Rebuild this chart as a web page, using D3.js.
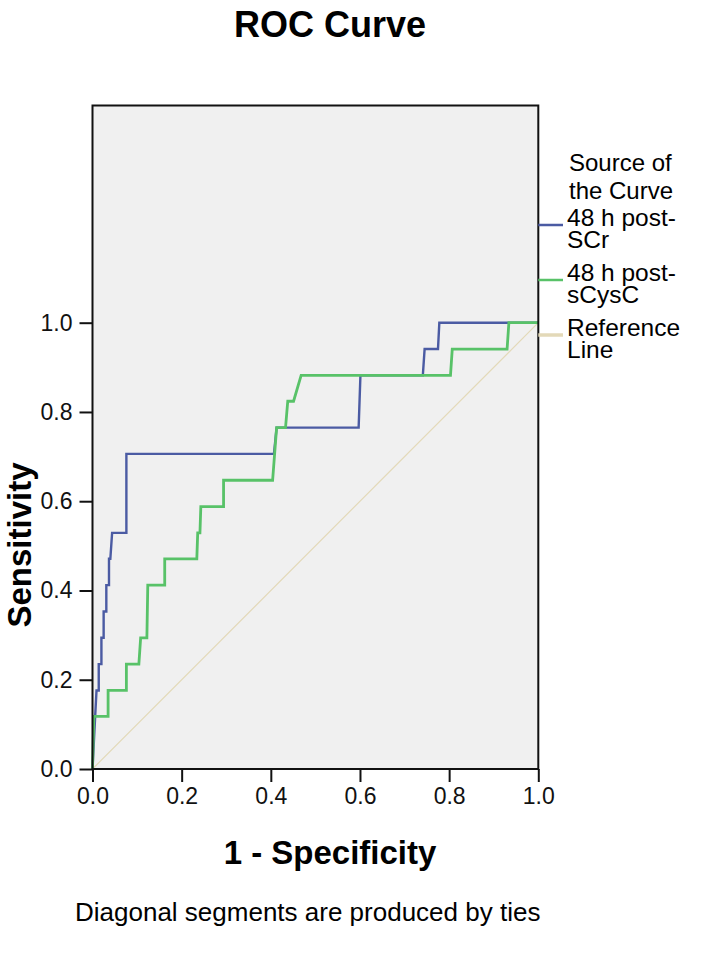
<!DOCTYPE html>
<html>
<head>
<meta charset="utf-8">
<script src="https://cdn.jsdelivr.net/npm/d3@7"></script>
<style>
  html, body { margin: 0; padding: 0; background: #fff; }
  text { font-family: "Liberation Sans", Arial, sans-serif; }
</style>
</head>
<body>
<svg id="chart" width="709" height="958"></svg>
<script>
// ---- data (1 - specificity, sensitivity) ----
const scrX = [0, 0.003, 0.006, 0.009, 0.014, 0.014, 0.020, 0.020, 0.025, 0.025, 0.031, 0.031, 0.037, 0.037, 0.040, 0.044, 0.076, 0.076, 0.407, 0.413, 0.597, 0.601, 0.741, 0.745, 0.775, 0.778, 1.0];
const scrY = [0, 0.059, 0.118, 0.176, 0.176, 0.235, 0.235, 0.294, 0.294, 0.353, 0.353, 0.412, 0.412, 0.471, 0.471, 0.529, 0.529, 0.706, 0.706, 0.765, 0.765, 0.882, 0.882, 0.941, 0.941, 1.0, 1.0];

const cysX = [0, 0.003, 0.035, 0.035, 0.076, 0.076, 0.104, 0.108, 0.122, 0.124, 0.162, 0.162, 0.234, 0.236, 0.241, 0.243, 0.294, 0.294, 0.404, 0.413, 0.433, 0.438, 0.451, 0.468, 0.803, 0.807, 0.930, 0.934, 1.0];
const cysY = [0, 0.118, 0.118, 0.176, 0.176, 0.235, 0.235, 0.294, 0.294, 0.412, 0.412, 0.471, 0.471, 0.529, 0.529, 0.588, 0.588, 0.647, 0.647, 0.765, 0.765, 0.824, 0.824, 0.882, 0.882, 0.941, 0.941, 1.0, 1.0];

const refX = [0, 1];
const refY = [0, 1];

const tickValues = [0.0, 0.2, 0.4, 0.6, 0.8, 1.0];
const legendLabels = [["48 h post-", "SCr"], ["48 h post-", "sCysC"], ["Reference", "Line"]];
const legendTitle = ["Source of", "the Curve"];
const colors = ["#4b5ba3", "#58c268", "#e3d9b8"];

// ---- layout ----
const svg = d3.select("#chart");
const plotL = 92.5, plotR = 538.3, plotB = 769, yOne = 322.7, plotT = 105.5;

const x = d3.scaleLinear().domain([0, 1]).range([plotL, plotR]);
const y = d3.scaleLinear().domain([0, 1]).range([plotB, yOne]);

// plot background
svg.append("rect")
  .attr("x", plotL).attr("y", plotT)
  .attr("width", plotR - plotL).attr("height", plotB - plotT)
  .attr("fill", "#f0f0f0");

const line = d3.line().x(d => x(d[0])).y(d => y(d[1]));
const zip = (a, b) => a.map((v, i) => [v, b[i]]);

// reference line
svg.append("path").datum(zip(refX, refY))
  .attr("d", line).attr("fill", "none")
  .attr("stroke", colors[2]).attr("stroke-width", 1.2);

svg.append("path").datum(zip(scrX, scrY))
  .attr("d", line).attr("fill", "none")
  .attr("stroke", colors[0]).attr("stroke-width", 2.4);

svg.append("path").datum(zip(cysX, cysY))
  .attr("d", line).attr("fill", "none")
  .attr("stroke", colors[1]).attr("stroke-width", 2.8);

// frame
svg.append("rect")
  .attr("x", plotL).attr("y", plotT)
  .attr("width", plotR - plotL).attr("height", plotB - plotT)
  .attr("fill", "none").attr("stroke", "#111").attr("stroke-width", 2);

// axes
const xAxis = d3.axisBottom(x).tickValues(tickValues).tickFormat(d3.format(".1f")).tickSizeOuter(0).tickSize(13).tickPadding(6);
const gx = svg.append("g").attr("transform", `translate(0,${plotB})`).call(xAxis);
gx.select(".domain").remove();
gx.selectAll("line").attr("stroke", "#111").attr("stroke-width", 2);
gx.selectAll("text").attr("font-size", 23).attr("fill", "#111")
  .attr("font-family", "Liberation Sans, Arial, sans-serif");

const yAxis = d3.axisLeft(y).tickValues(tickValues).tickFormat(d3.format(".1f")).tickSizeOuter(0).tickSize(13).tickPadding(7);
const gy = svg.append("g").attr("transform", `translate(${plotL},0)`).call(yAxis);
gy.select(".domain").remove();
gy.selectAll("line").attr("stroke", "#111").attr("stroke-width", 2);
gy.selectAll("text").attr("font-size", 23).attr("fill", "#111")
  .attr("font-family", "Liberation Sans, Arial, sans-serif");

// title
svg.append("text").attr("x", 330).attr("y", 37)
  .attr("text-anchor", "middle").attr("font-size", 36).attr("font-weight", "bold")
  .text("ROC Curve");

// x label
svg.append("text").attr("x", 330).attr("y", 864)
  .attr("text-anchor", "middle").attr("font-size", 33).attr("font-weight", "bold")
  .text("1 - Specificity");

// y label
svg.append("text")
  .attr("transform", "translate(31,545) rotate(-90)")
  .attr("text-anchor", "middle").attr("font-size", 33).attr("font-weight", "bold")
  .text("Sensitivity");

// legend
const lt = svg.append("text").attr("font-size", 24);
legendTitle.forEach((t, i) => lt.append("tspan").attr("x", 569).attr("y", 171 + i * 28).text(t));

const legendLineY = [225, 280, 335];
legendLabels.forEach((lab, i) => {
  svg.append("line")
    .attr("x1", plotR).attr("x2", 563)
    .attr("y1", legendLineY[i]).attr("y2", legendLineY[i])
    .attr("stroke", colors[i]).attr("stroke-width", i === 2 ? 3.5 : 2.5);
  const t = svg.append("text").attr("font-size", 24.5);
  lab.forEach((s, j) => t.append("tspan").attr("x", 567).attr("y", legendLineY[i] + 1 + j * 22).text(s));
});

// footnote
svg.append("text").attr("x", 75).attr("y", 921)
  .attr("font-size", 26).text("Diagonal segments are produced by ties");
</script>
</body>
</html>
